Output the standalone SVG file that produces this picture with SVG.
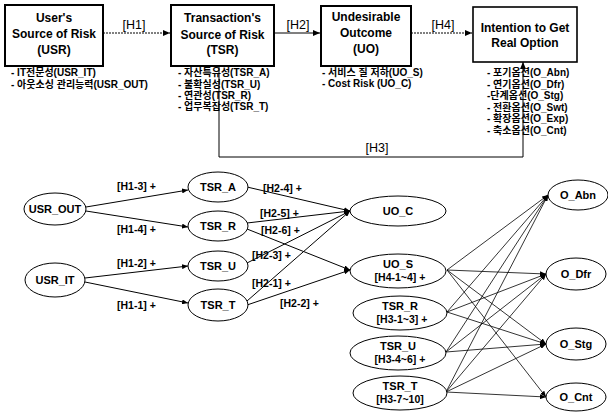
<svg xmlns="http://www.w3.org/2000/svg" width="608" height="413" viewBox="0 0 608 413">
<defs>
<marker id="ah" markerUnits="userSpaceOnUse" markerWidth="7" markerHeight="6" refX="7" refY="3" orient="auto"><path d="M0,0 L7,3 L0,6 z" fill="#000"/></marker>
<marker id="as" markerUnits="userSpaceOnUse" markerWidth="6" markerHeight="5" refX="6" refY="2.5" orient="auto"><path d="M0,0 L6,2.5 L0,5 z" fill="#000"/></marker>
<style>
.box{fill:#fff;stroke:#000;stroke-width:2}
.bt{font-family:"Liberation Sans","Noto Sans CJK KR",sans-serif;font-size:12px;font-weight:bold;text-anchor:middle;fill:#000}
.hl{font-family:"Liberation Sans",sans-serif;font-size:12.5px;text-anchor:middle;fill:#000}
.li{font-family:"Liberation Sans","Noto Sans CJK KR",sans-serif;font-size:10px;font-weight:bold;fill:#000}
.el{fill:#fff;stroke:#000;stroke-width:1}
.nt{font-family:"Liberation Sans",sans-serif;font-size:11px;font-weight:bold;text-anchor:middle;fill:#000}
.st{font-family:"Liberation Sans",sans-serif;font-size:10.5px;font-weight:bold;text-anchor:middle;fill:#000}
.lb{font-family:"Liberation Sans",sans-serif;font-size:10.5px;font-weight:bold;fill:#000}
.ln{fill:none;stroke:#000;stroke-width:1}
.lr{fill:none;stroke:#000;stroke-width:0.8}
.dt{fill:none;stroke:#000;stroke-width:1;stroke-dasharray:2,1}
</style>
</defs>
<rect width="608" height="413" fill="#fff"/>

<g id="connectors">
<line class="dt" x1="103" y1="33" x2="170" y2="33" marker-end="url(#ah)"/>
<line class="ln" x1="274" y1="33" x2="320" y2="33" marker-end="url(#ah)"/>
<line class="dt" x1="411" y1="33" x2="472" y2="33" marker-end="url(#ah)"/>
<polyline class="ln" points="219,66 219,157 523,157 523,62" marker-end="url(#ah)"/>
<text class="hl" x="134" y="29">[H1]</text>
<text class="hl" x="298" y="29">[H2]</text>
<text class="hl" x="443" y="29">[H4]</text>
<text class="hl" x="377" y="152">[H3]</text>

<line class="ln" x1="86" y1="207" x2="188" y2="190" marker-end="url(#as)"/>
<line class="ln" x1="86" y1="211" x2="188" y2="227" marker-end="url(#as)"/>
<line class="ln" x1="85" y1="278" x2="188" y2="266" marker-end="url(#as)"/>
<line class="ln" x1="85" y1="282" x2="188" y2="303" marker-end="url(#as)"/>
<text class="lb" x="117" y="190">[H1-3] +</text>
<text class="lb" x="117" y="233">[H1-4] +</text>
<text class="lb" x="117" y="267">[H1-2] +</text>
<text class="lb" x="117" y="309">[H1-1] +</text>

<line class="ln" x1="247" y1="187" x2="350" y2="211" marker-end="url(#as)"/>
<line class="ln" x1="247" y1="223" x2="350" y2="211" marker-end="url(#as)"/>
<line class="ln" x1="247" y1="229" x2="350" y2="270" marker-end="url(#as)"/>
<line class="ln" x1="247" y1="263" x2="350" y2="211" marker-end="url(#as)"/>
<line class="ln" x1="247" y1="301" x2="350" y2="211" marker-end="url(#as)"/>
<line class="ln" x1="247" y1="305" x2="350" y2="270" marker-end="url(#as)"/>
<text class="lb" x="263" y="192">[H2-4] +</text>
<text class="lb" x="260" y="217">[H2-5] +</text>
<text class="lb" x="261" y="234">[H2-6] +</text>
<text class="lb" x="252" y="259">[H2-3] +</text>
<text class="lb" x="252" y="287">[H2-1] +</text>
<text class="lb" x="280" y="307">[H2-2] +</text>

<line class="lr" x1="447" y1="270" x2="548" y2="195" marker-end="url(#as)"/>
<line class="lr" x1="447" y1="270" x2="546" y2="274" marker-end="url(#as)"/>
<line class="lr" x1="447" y1="270" x2="546" y2="344" marker-end="url(#as)"/>
<line class="lr" x1="447" y1="270" x2="546" y2="397" marker-end="url(#as)"/>
<line class="lr" x1="447" y1="312" x2="548" y2="195" marker-end="url(#as)"/>
<line class="lr" x1="447" y1="312" x2="546" y2="274" marker-end="url(#as)"/>
<line class="lr" x1="447" y1="312" x2="546" y2="344" marker-end="url(#as)"/>
<line class="lr" x1="446" y1="352" x2="548" y2="195" marker-end="url(#as)"/>
<line class="lr" x1="446" y1="352" x2="546" y2="274" marker-end="url(#as)"/>
<line class="lr" x1="446" y1="352" x2="546" y2="344" marker-end="url(#as)"/>
<line class="lr" x1="446" y1="392" x2="548" y2="195" marker-end="url(#as)"/>
<line class="lr" x1="446" y1="392" x2="546" y2="274" marker-end="url(#as)"/>
<line class="lr" x1="446" y1="392" x2="546" y2="344" marker-end="url(#as)"/>
<line class="lr" x1="446" y1="392" x2="546" y2="397" marker-end="url(#as)"/>
</g>

<g id="USR">
<rect class="box" x="5" y="5" width="98" height="61"/>
<text class="bt" x="54" y="22">User's</text>
<text class="bt" x="54" y="38">Source of Risk</text>
<text class="bt" x="54" y="54">(USR)</text>
<text class="li" x="11" y="76">- IT전문성(USR_IT)</text>
<text class="li" x="11" y="88">- 아웃소싱 관리능력(USR_OUT)</text>
</g>
<g id="TSR">
<rect class="box" x="171" y="5" width="103" height="61"/>
<text class="bt" x="222.5" y="22">Transaction's</text>
<text class="bt" x="222.5" y="39">Source of Risk</text>
<text class="bt" x="222.5" y="54">(TSR)</text>
<text class="li" x="178" y="76">- 자산특유성(TSR_A)</text>
<text class="li" x="178" y="88">- 불확실성(TSR_U)</text>
<text class="li" x="178" y="99">- 연관성(TSR_R)</text>
<text class="li" x="178" y="110">- 업무복잡성(TSR_T)</text>
</g>
<g id="UO">
<rect class="box" x="321" y="6" width="90" height="60"/>
<text class="bt" x="366" y="21">Undesirable</text>
<text class="bt" x="366" y="37">Outcome</text>
<text class="bt" x="366" y="53">(UO)</text>
<text class="li" x="322" y="76">- 서비스 질 저하(UO_S)</text>
<text class="li" x="322" y="87">- Cost Risk (UO_C)</text>
</g>
<g id="IRO">
<rect class="box" x="473" y="7" width="104" height="55" style="stroke-width:1.6"/>
<text class="bt" x="525" y="32">Intention to Get</text>
<text class="bt" x="525" y="47">Real Option</text>
<text class="li" x="487" y="76">- 포기옵션(O_Abn)</text>
<text class="li" x="487" y="87.5">- 연기옵션(O_Dfr)</text>
<text class="li" x="487" y="99">-단계옵션(O_Stg)</text>
<text class="li" x="487" y="110.5">- 전환옵션(O_Swt)</text>
<text class="li" x="487" y="122">- 확장옵션(O_Exp)</text>
<text class="li" x="487" y="133.5">- 축소옵션(O_Cnt)</text>
</g>

<g id="n_USR_OUT"><ellipse class="el" cx="55" cy="209" rx="31" ry="16"/><text class="nt" x="55" y="213">USR_OUT</text></g>
<g id="n_USR_IT"><ellipse class="el" cx="55" cy="280" rx="30" ry="17"/><text class="nt" x="55" y="284">USR_IT</text></g>
<g id="n_TSR_A"><ellipse class="el" cx="218" cy="187" rx="30" ry="15"/><text class="nt" x="218" y="191">TSR_A</text></g>
<g id="n_TSR_R"><ellipse class="el" cx="218" cy="226" rx="30" ry="15"/><text class="nt" x="218" y="230">TSR_R</text></g>
<g id="n_TSR_U"><ellipse class="el" cx="218" cy="266" rx="30" ry="15"/><text class="nt" x="218" y="270">TSR_U</text></g>
<g id="n_TSR_T"><ellipse class="el" cx="218" cy="305" rx="30" ry="16"/><text class="nt" x="218" y="309">TSR_T</text></g>

<g id="n_UO_C"><ellipse class="el" cx="398" cy="211" rx="48" ry="15"/><text class="nt" x="398" y="215">UO_C</text></g>
<g id="n_UO_S"><ellipse class="el" cx="398" cy="271" rx="48" ry="17"/><text class="nt" x="398" y="268">UO_S</text><text class="st" x="400" y="281">[H4-1~4] +</text></g>
<g id="n_TSR_R2"><ellipse class="el" cx="400" cy="313" rx="47" ry="17"/><text class="nt" x="400" y="310">TSR_R</text><text class="st" x="402" y="323">[H3-1~3] +</text></g>
<g id="n_TSR_U2"><ellipse class="el" cx="398" cy="353" rx="48" ry="17"/><text class="nt" x="398" y="350">TSR_U</text><text class="st" x="400" y="363">[H3-4~6] +</text></g>
<g id="n_TSR_T2"><ellipse class="el" cx="400" cy="393" rx="47" ry="17"/><text class="nt" x="400" y="390">TSR_T</text><text class="st" x="400" y="403">[H3-7~10]</text></g>

<g id="n_O_Abn"><ellipse class="el" cx="578" cy="195" rx="30" ry="15"/><text class="nt" x="578" y="199">O_Abn</text></g>
<g id="n_O_Dfr"><ellipse class="el" cx="576" cy="274" rx="30" ry="16"/><text class="nt" x="576" y="278">O_Dfr</text></g>
<g id="n_O_Stg"><ellipse class="el" cx="576" cy="344" rx="30" ry="16"/><text class="nt" x="576" y="348">O_Stg</text></g>
<g id="n_O_Cnt"><ellipse class="el" cx="576" cy="397" rx="30" ry="14"/><text class="nt" x="576" y="401">O_Cnt</text></g>
</svg>
